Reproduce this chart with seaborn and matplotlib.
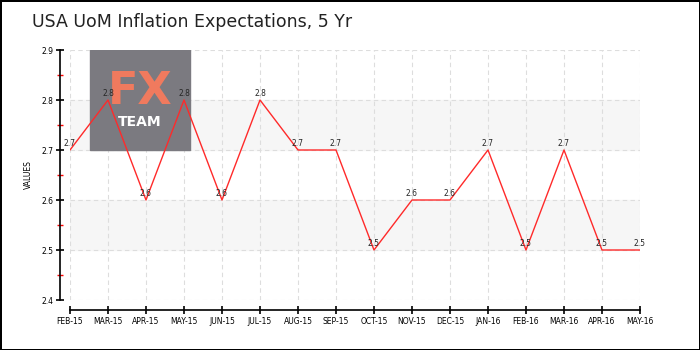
import matplotlib
matplotlib.use("Agg")
import matplotlib.pyplot as plt
import seaborn as sns
import pandas as pd
from matplotlib.patches import Rectangle

months = ["FEB-15", "MAR-15", "APR-15", "MAY-15", "JUN-15", "JUL-15", "AUG-15", "SEP-15",
          "OCT-15", "NOV-15", "DEC-15", "JAN-16", "FEB-16", "MAR-16", "APR-16", "MAY-16"]
values = [2.7, 2.8, 2.6, 2.8, 2.6, 2.8, 2.7, 2.7, 2.5, 2.6, 2.6, 2.7, 2.5, 2.7, 2.5, 2.5]
yticks = [2.4, 2.5, 2.6, 2.7, 2.8, 2.9]

df = pd.DataFrame({"idx": range(len(months)), "month": months, "value": values})

sns.set_theme(style="white")
plt.rcParams['font.family'] = ['DejaVu Sans']

fig = plt.figure(figsize=(7, 3.5), dpi=100)
fig.patch.set_edgecolor("black")
fig.patch.set_linewidth(2)
ax = fig.add_axes([70/700, 50/350, 570/700, 250/350])

# alternating bands
for lo, hi in [(2.5, 2.6), (2.7, 2.8)]:
    ax.axhspan(lo, hi, color="#f6f6f6", zorder=0)

# grid
for i in range(len(months)):
    ax.axvline(i, color="#dddddd", lw=0.8, ls=(0, (4, 3)), zorder=1)
for y in yticks:
    ax.axhline(y, color="#dddddd", lw=0.8, ls=(0, (4, 3)), zorder=1)

# watermark logo
ax.add_patch(Rectangle((20/38, 2.7), 100/38, 0.2, color="#7b7a80", zorder=1.5))
ax.text(20/38 + 50/38, 2.816, "FX", color="#f07a5e", fontsize=32, fontweight="bold",
        ha="center", va="center", zorder=1.6)
ax.text(20/38 + 50/38, 2.756, "TEAM", color="white", fontsize=10, fontweight="bold",
        ha="center", va="center", zorder=1.6)

sns.lineplot(data=df, x="idx", y="value", color="#ff2a2a", lw=1, ax=ax, zorder=3)

for i, v in zip(df["idx"], df["value"]):
    ax.text(i, v + 0.003, f"{v:.1f}", fontsize=5.5, ha="center", va="bottom", zorder=4)

ax.set_xlim(0, 15)
ax.set_ylim(2.4, 2.9)
ax.set_xticks(range(len(months)))
ax.set_yticks(yticks)
for s in ["left", "bottom"]:
    ax.spines[s].set_color("black")
    ax.spines[s].set_linewidth(1.2)
sns.despine(ax=ax, offset=7, trim=True)

ax.set_xticks(range(len(months)))
ax.set_xticklabels(months, fontsize=5.5)
ax.set_yticks(yticks)
ax.set_yticklabels([f"{y:.1f}" for y in yticks], fontsize=5.5)
ax.set_yticks([2.45, 2.55, 2.65, 2.75, 2.85], minor=True)
ax.tick_params(axis="both", which="major", direction="inout", length=6, width=1.2, color="black", pad=2,
               left=True, bottom=True, labelsize=5.5, labelcolor="black")
ax.tick_params(axis="y", which="minor", direction="inout", length=4, width=1, color="red", left=True)
ax.set_xlabel("")
ax.set_ylabel("VALUES", fontsize=5.5, labelpad=6, color="black")

fig.text(32/700, 1 - 22/350, "USA UoM Inflation Expectations, 5 Yr", fontsize=12.5,
         ha="left", va="center", color="#222222")

fig.savefig("out.png", dpi=100, edgecolor=fig.get_edgecolor())
